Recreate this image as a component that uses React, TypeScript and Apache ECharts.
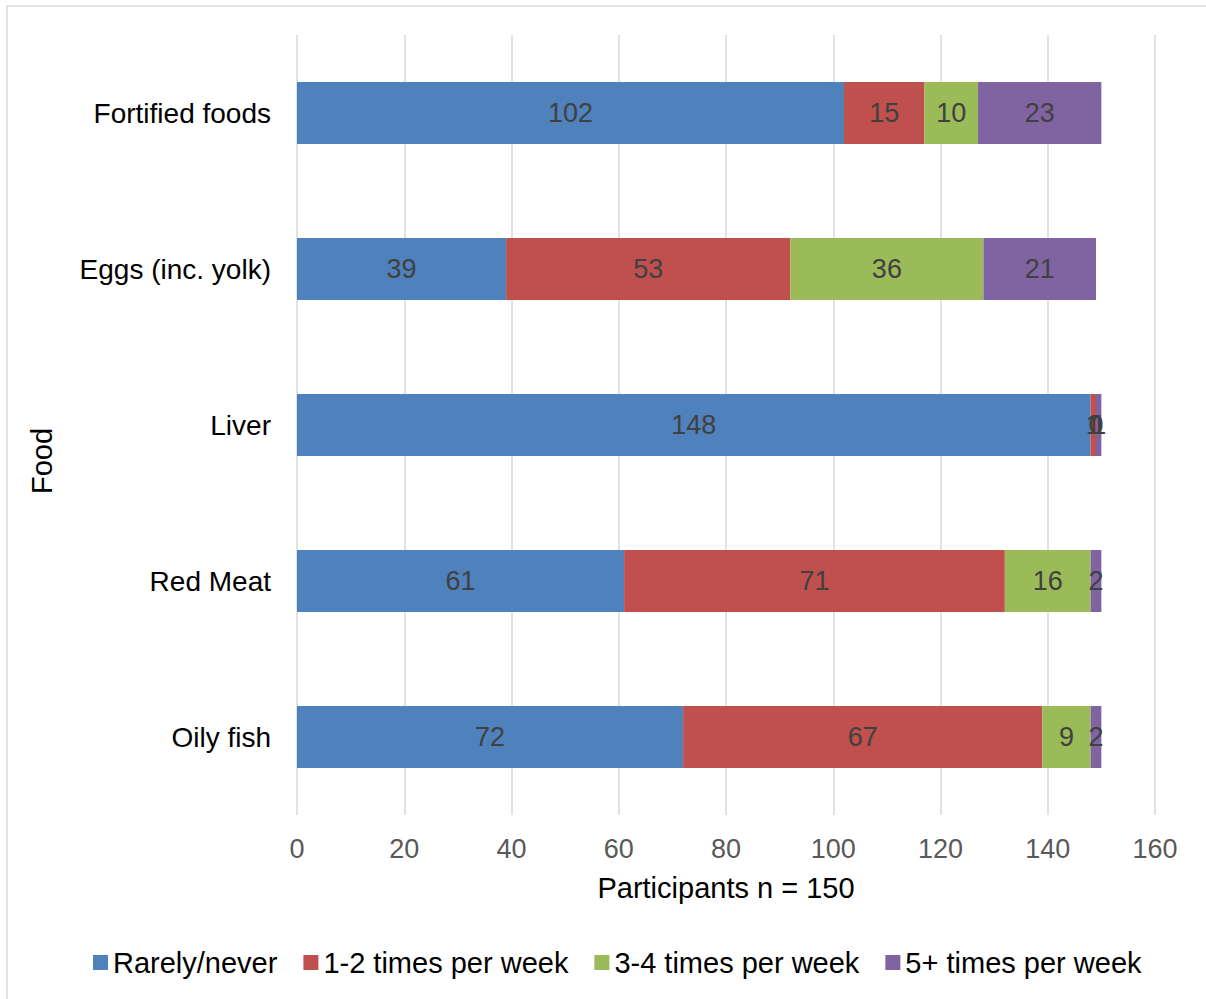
import React, { useEffect, useRef } from "react";
import * as echarts from "echarts";

const categories = ["Fortified foods", "Eggs (inc. yolk)", "Liver", "Red Meat", "Oily fish"];
const rarelyNever = [102, 39, 148, 61, 72];
const oneTwoPerWeek = [15, 53, 1, 71, 67];
const threeFourPerWeek = [10, 36, 0, 16, 9];
const fivePlusPerWeek = [23, 21, 1, 2, 2];
const seriesNames = ["Rarely/never", "1-2 times per week", "3-4 times per week", "5+ times per week"];
const seriesColors = ["#4F81BD", "#C0504D", "#9BBB59", "#8064A2"];
const xTicks = { min: 0, max: 160, interval: 20 };

const FONT = "'Liberation Sans', Arial, sans-serif";

export default function App() {
  const ref = useRef<HTMLDivElement>(null);
  useEffect(() => {
    if (!ref.current) return;
    const chart = echarts.init(ref.current, undefined, { renderer: "svg" });
    const values = [rarelyNever, oneTwoPerWeek, threeFourPerWeek, fivePlusPerWeek];
    chart.setOption({
      animation: false,
      textStyle: { fontFamily: FONT },
      grid: { left: 297, right: 51, top: 35, bottom: 184, containLabel: false },
      xAxis: {
        type: "value",
        min: xTicks.min,
        max: xTicks.max,
        interval: xTicks.interval,
        axisLine: { show: false },
        axisTick: { show: false },
        axisLabel: { fontSize: 27, color: "#595959", margin: 20, fontFamily: FONT },
        splitLine: { show: true, lineStyle: { color: "#D9D9D9", width: 1.5 } },
      },
      yAxis: {
        type: "category",
        data: categories,
        inverse: true,
        axisLine: { show: false },
        axisTick: { show: false },
        axisLabel: { fontSize: 28, color: "#000000", margin: 26, fontFamily: FONT },
      },
      legend: {
        bottom: 17,
        left: 88,
        icon: "rect",
        itemWidth: 15,
        itemHeight: 15,
        itemGap: 26,
        textStyle: { fontSize: 29, color: "#000000", fontFamily: FONT },
        data: seriesNames,
      },
      graphic: [
        {
          type: "rect",
          shape: { x: 7, y: 6, width: 1220, height: 1020 },
          style: { fill: "none", stroke: "#D9D9D9", lineWidth: 1.5 },
          silent: true,
        },
        {
          type: "text",
          x: 726,
          y: 888,
          style: {
            text: "Participants n = 150",
            font: `29px ${FONT}`,
            fill: "#000000",
            textAlign: "center",
            textVerticalAlign: "middle",
          },
        },
        {
          type: "text",
          x: 42,
          y: 461,
          rotation: Math.PI / 2,
          style: {
            text: "Food",
            font: `29px ${FONT}`,
            fill: "#000000",
            textAlign: "center",
            textVerticalAlign: "middle",
          },
        },
      ],
      series: seriesNames.map((name, i) => ({
        name,
        type: "bar",
        stack: "total",
        barWidth: 62,
        itemStyle: { color: seriesColors[i] },
        label: {
          show: true,
          position: "inside",
          fontSize: 27,
          color: "#404040",
          fontFamily: FONT,
        },
        data: values[i],
      })),
    });
    return () => chart.dispose();
  }, []);
  return (
    <div
      ref={ref}
      style={{ position: "absolute", left: 0, top: 0, width: 1206, height: 999, background: "#fff" }}
    />
  );
}
